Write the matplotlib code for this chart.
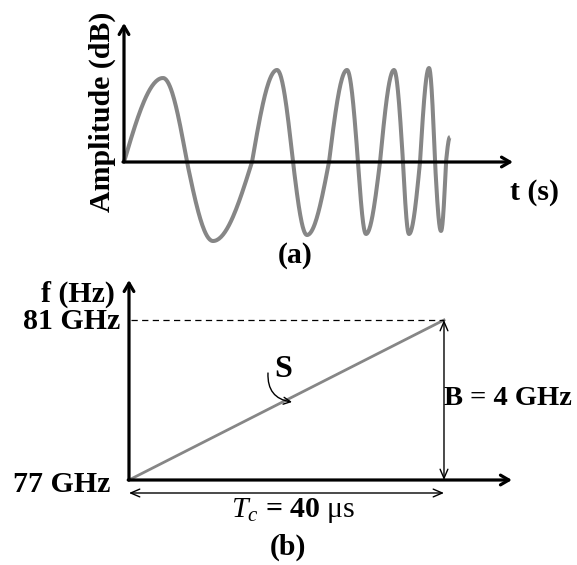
import numpy as np
import matplotlib.pyplot as plt

plt.rcParams['font.family'] = 'Liberation Serif'
plt.rcParams['font.weight'] = 'bold'
plt.rcParams['mathtext.fontset'] = 'custom'
plt.rcParams['mathtext.rm'] = 'Liberation Serif:weight=normal'
plt.rcParams['mathtext.it'] = 'Liberation Serif:style=italic:weight=normal'
plt.rcParams['mathtext.bf'] = 'Liberation Serif:weight=bold'

# (a) chirp waveform: zero crossings and peaks/troughs (time, amplitude)
chirp_t = [0, 3.9, 6.3, 8.9, 12.8, 15.3, 16.9, 18.3, 20.5, 22.3, 23.4, 24.2,
           25.6, 27.0, 27.9, 28.5, 29.6, 30.5, 31.1, 31.7, 32.2, 32.6]
chirp_a = [0, 84, 0, -79, 0, 92, 0, -73, 0, 92, 0, -72,
           0, 92, 0, -72, 0, 94, 0, -69, 0, 25]

# (b) FMCW ramp
f_start = 77   # GHz
f_stop = 81    # GHz
Tc = 40        # us
B = f_stop - f_start

GRAY = '#868686'
FS = 21.5

fig = plt.figure(figsize=(5.77, 5.65), dpi=100)

# ---------- (a) ----------
axa = fig.add_axes([0, 1 - 270 / 565, 1, 270 / 565])
axa.set_xlim(-12.4, 45.3)
axa.set_ylim(-108, 162)
axa.axis('off')

# quarter-sine arcs between successive knots
xs, ys = [], []
for i in range(len(chirp_t) - 1):
    t0, t1 = chirp_t[i], chirp_t[i + 1]
    v0, v1 = chirp_a[i], chirp_a[i + 1]
    s = np.linspace(0, 1, 40)
    if v0 == 0:
        v = v1 * np.sin(np.pi / 2 * s)
    else:
        v = v0 * np.cos(np.pi / 2 * s)
    xs.append(t0 + (t1 - t0) * s)
    ys.append(v)
axa.plot(np.concatenate(xs), np.concatenate(ys), color=GRAY, lw=2.9,
         solid_capstyle='butt', zorder=2)

ax_arrow = dict(arrowstyle='->,head_length=0.6,head_width=0.35', lw=2.3,
                color='black', shrinkA=0, shrinkB=0)
axa.annotate('', xy=(0, 139), xytext=(0, 0), arrowprops=ax_arrow)
axa.annotate('', xy=(38.9, 0), xytext=(-0.1, 0), arrowprops=ax_arrow)

axa.text(-2.2, 50, 'Amplitude (dB)', rotation=90, ha='center', va='center',
         fontsize=FS)
axa.text(38.6, -38, 't (s)', ha='left', va='baseline', fontsize=FS)
axa.text(17.1, -101, '(a)', ha='center', va='baseline', fontsize=FS)

# ---------- (b) ----------
axb = fig.add_axes([0, 0, 1, 295 / 565])
axb.set_xlim(-16.38, 56.89)
axb.set_ylim(74.875, 82.25)
axb.axis('off')

axb.annotate('', xy=(0, 82.0), xytext=(0, f_start), arrowprops=ax_arrow)
axb.annotate('', xy=(48.63, f_start), xytext=(-0.1, f_start), arrowprops=ax_arrow)

# frequency ramp
axb.plot([0, Tc], [f_start, f_stop], color=GRAY, lw=2.0, zorder=2)
axb.plot([0.2, Tc], [f_stop, f_stop], color='black', lw=0.9,
         linestyle=(0, (5, 3.5)))

thin = dict(arrowstyle='<->,head_length=0.65,head_width=0.28', lw=1.0,
            color='black', shrinkA=0, shrinkB=0)
axb.annotate('', xy=(Tc, f_stop), xytext=(Tc, f_start), arrowprops=thin)
axb.annotate('', xy=(Tc, 76.675), xytext=(0, 76.675), arrowprops=thin)

axb.text(-1.78, 81.45, 'f (Hz)', ha='right', va='baseline', fontsize=FS)
axb.text(-1.14, 80.775, f'{f_stop} GHz', ha='right', va='baseline', fontsize=FS)
axb.text(-2.41, 76.7, f'{f_start} GHz', ha='right', va='baseline', fontsize=FS)
axb.text(40.05, 78.875, f'B = {B} GHz', ha='left', va='baseline', fontsize=20.5)
axb.text(20.83, 76.075, r'$T_c$' + f' = {Tc} ' + r'$\mathrm{\mu s}$',
         ha='center', va='baseline', fontsize=FS)
axb.text(20.19, 75.125, '(b)', ha='center', va='baseline', fontsize=FS)

# slope label with curved pointer
axb.text(19.56, 79.575, 'S', ha='center', va='baseline', fontsize=23)
axb.annotate('', xy=(20.7, 78.95), xytext=(17.65, 79.675),
             arrowprops=dict(arrowstyle='->,head_length=0.5,head_width=0.25',
                             lw=1.0, color='black', shrinkA=0, shrinkB=0,
                             connectionstyle='arc3,rad=0.45'))

fig.savefig('out.png', dpi=100)
